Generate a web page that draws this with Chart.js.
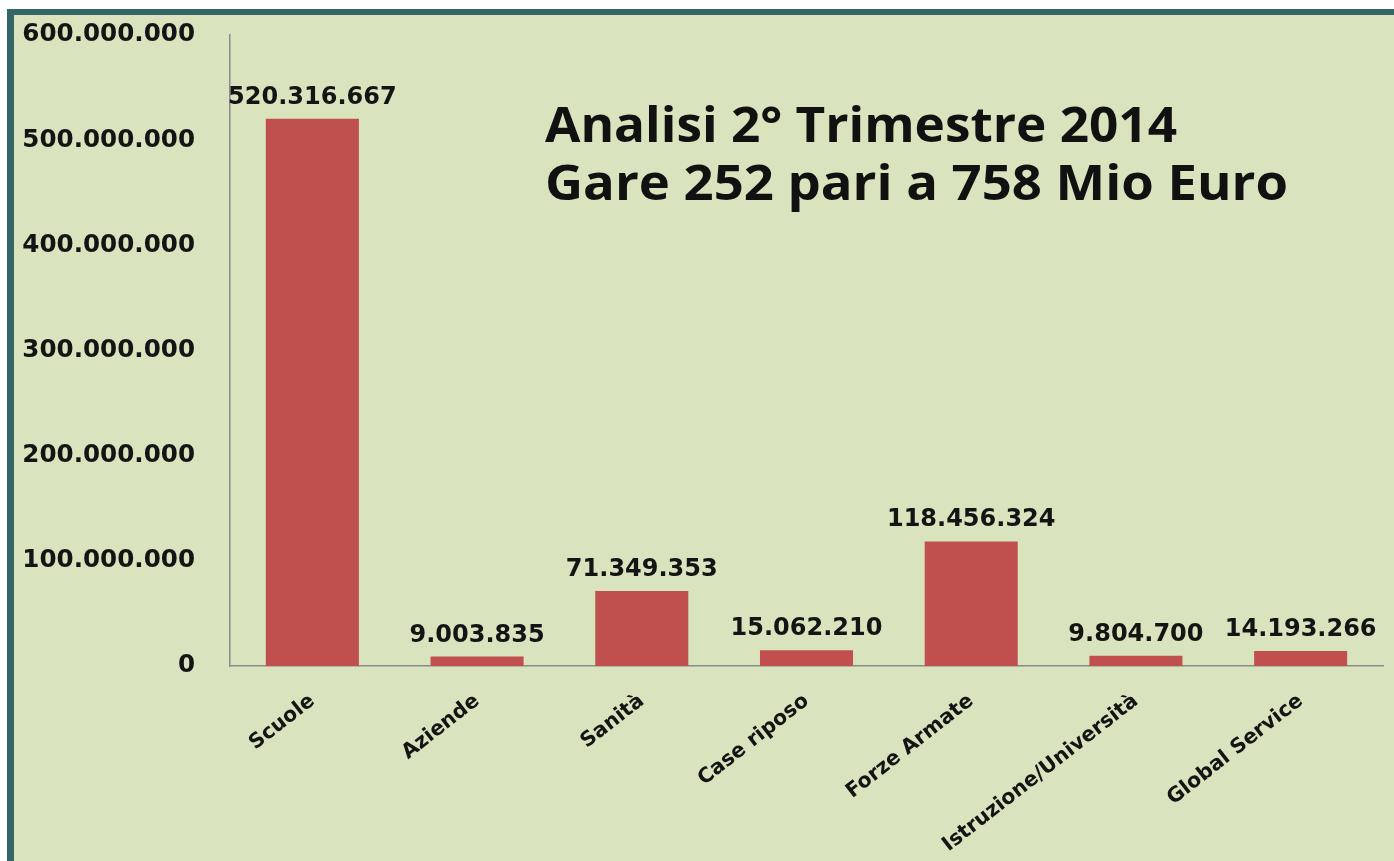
<!DOCTYPE html>
<html>
<head>
<meta charset="utf-8">
<script src="https://cdn.jsdelivr.net/npm/chart.js@4"></script>
<style>
  html, body { margin: 0; padding: 0; background: #ffffff; width: 1394px; height: 861px; overflow: hidden; }
  #frame { position: absolute; left: 7px; top: 9px; width: 1387px; height: 852px; background: #336767; }
  #wrap { position: absolute; left: 14px; top: 15px; width: 1380px; height: 846px; background: #d9e3be; }
</style>
</head>
<body>
<div id="frame"></div>
<div id="wrap"><canvas id="c"></canvas></div>
<script>
const categories = ['Scuole', 'Aziende', 'Sanità', 'Case riposo', 'Forze Armate', 'Istruzione/Università', 'Global Service'];
const values = [520316667, 9003835, 71349353, 15062210, 118456324, 9804700, 14193266];
const yTicks = [0, 100000000, 200000000, 300000000, 400000000, 500000000, 600000000];
const titleLines = ['Analisi 2° Trimestre 2014', 'Gare 252 pari a 758 Mio Euro'];

function fmt(n) {
  return String(Math.round(n)).replace(/\B(?=(\d{3})+(?!\d))/g, '.');
}

const valueLabels = {
  id: 'valueLabels',
  afterDatasetsDraw(chart) {
    const ctx = chart.ctx;
    const meta = chart.getDatasetMeta(0);
    ctx.save();
    ctx.font = 'bold 24px "DejaVu Sans"';
    ctx.fillStyle = '#141414';
    ctx.textAlign = 'center';
    ctx.textBaseline = 'alphabetic';
    meta.data.forEach((bar, i) => {
      ctx.fillText(fmt(values[i]), bar.x, bar.y - 15);
    });
    ctx.restore();
  }
};

const titleText = {
  id: 'titleText',
  afterDraw(chart) {
    const ctx = chart.ctx;
    const lines = [[titleLines[0], 127, 632], [titleLines[1], 185, 743]];
    lines.forEach(([txt, y, target]) => {
      ctx.save();
      ctx.font = 'bold 48px "Open Sans"';
      ctx.fillStyle = '#111111';
      ctx.textAlign = 'left';
      ctx.textBaseline = 'alphabetic';
      const w = ctx.measureText(txt).width;
      ctx.translate(531, 0);
      ctx.scale(target / w, 1);
      ctx.fillText(txt, 0, y);
      ctx.restore();
    });
  }
};

new Chart(document.getElementById('c'), {
  type: 'bar',
  data: {
    labels: categories,
    datasets: [{
      data: values,
      backgroundColor: '#c0504d',
      borderWidth: 0,
      barPercentage: 0.565,
      categoryPercentage: 1.0
    }]
  },
  options: {
    responsive: true,
    maintainAspectRatio: false,
    animation: false,
    layout: { padding: { top: 20, right: 11, bottom: 0, left: 0 } },
    plugins: {
      legend: { display: false },
      tooltip: { enabled: false },
      title: { display: false }
    },
    scales: {
      x: {
        grid: { display: false },
        border: { display: true, color: '#8c8c8c', width: 1.5 },
        ticks: {
          autoSkip: false,
          maxRotation: 38,
          minRotation: 38,
          padding: 15,
          color: '#141414',
          font: { family: '"DejaVu Sans"', size: 20.5, weight: 'bold' }
        },
        afterFit(scale) { scale.height = 195; scale.paddingLeft = 0; scale.paddingRight = 0; }
      },
      y: {
        min: 0,
        max: 600000000,
        afterBuildTicks(scale) { scale.ticks = yTicks.map(v => ({ value: v })); },
        grid: { display: false },
        border: { display: true, color: '#8c8c8c', width: 1.5 },
        ticks: {
          padding: 27,
          color: '#141414',
          font: { family: '"DejaVu Sans"', size: 24.6, weight: 'bold' },
          callback: (v) => fmt(v)
        },
        afterFit(scale) { scale.width = 216; scale.paddingTop = 0; scale.paddingBottom = 0; }
      }
    }
  },
  plugins: [valueLabels, titleText]
});
</script>
</body>
</html>
